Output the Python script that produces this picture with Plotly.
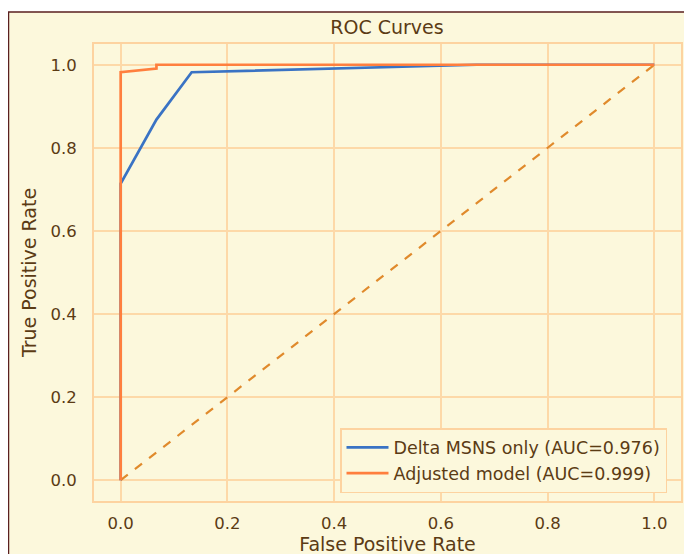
import plotly.graph_objects as go

# Data
fpr_msns = [0.0, 0.0, 0.067, 0.133, 0.667, 1.0]
tpr_msns = [0.0, 0.714, 0.868, 0.982, 1.0, 1.0]
fpr_adj = [0.0, 0.0, 0.067, 0.067, 1.0]
tpr_adj = [0.0, 0.982, 0.991, 1.0, 1.0]
diag_x = [0.0, 1.0]
diag_y = [0.0, 1.0]
name_msns = "Delta MSNS only (AUC=0.976)"
name_adj = "Adjusted model (AUC=0.999)"
tick_vals = [0.0, 0.2, 0.4, 0.6, 0.8, 1.0]
tick_text = ["0.0", "0.2", "0.4", "0.6", "0.8", "1.0"]

W, H = 692, 554
L, R, T, B = 86, 19, 36, 61
pw, ph = W - L - R, H - T - B

cream = "#fcf8dc"
grid = "#fdd9a8"
frame = "#fdd3a0"
text = "#5b3b14"
FONT = "DejaVu Sans"

fig = go.Figure()
fig.add_trace(go.Scatter(x=diag_x, y=diag_y, mode="lines", showlegend=False,
                         line=dict(color="#e08a2c", width=2.2, dash="dash")))
fig.add_trace(go.Scatter(x=fpr_msns, y=tpr_msns, mode="lines", name=name_msns,
                         line=dict(color="#3a73c4", width=2.7)))
fig.add_trace(go.Scatter(x=fpr_adj, y=tpr_adj, mode="lines", name=name_adj,
                         line=dict(color="#ff7f3e", width=2.7)))

# page frame: thin dark border at left/top
fig.add_shape(type="rect", xref="paper", yref="paper", layer="below",
              x0=(0.5 - L) / pw, x1=(W + 30 - L) / pw,
              y0=(H - B - (H + 30)) / ph, y1=(H - B - 4) / ph,
              fillcolor=cream, line=dict(color="#5a1f1f", width=1.5))

fig.update_layout(
    width=W, height=H,
    margin=dict(l=L, r=R, t=T, b=B),
    paper_bgcolor="white", plot_bgcolor=cream,
    font=dict(family=FONT, size=17, color=text),
    title=dict(text="ROC Curves", x=(387 - 8 - L) / pw, xref="paper", xanchor="center",
               y=1 - 19 / H, yanchor="middle", font=dict(size=19, color=text)),
    showlegend=True,
    legend=dict(x=(659 - L) / pw, y=8 / ph, xanchor="right", yanchor="bottom",
                bgcolor=cream, bordercolor=frame, borderwidth=1.5, itemwidth=42,
                font=dict(size=17.5, color=text), tracegroupgap=0),
)
fig.update_xaxes(range=[-0.05, 1.05], tickvals=tick_vals, ticktext=tick_text,
                 showgrid=True, gridcolor=grid, gridwidth=1.5, zeroline=False,
                 showline=True, linecolor=frame, linewidth=2, mirror=True,
                 ticks="", ticklen=0, ticklabelstandoff=6,
                 title=dict(text="False Positive Rate", standoff=5, font=dict(size=19)),
                 tickfont=dict(size=16.5))
fig.update_yaxes(range=[-0.05, 1.05], tickvals=tick_vals, ticktext=tick_text,
                 showgrid=True, gridcolor=grid, gridwidth=1.5, zeroline=False,
                 showline=True, linecolor=frame, linewidth=2, mirror=True,
                 ticks="", ticklen=0, ticklabelstandoff=12,
                 title=dict(text="True Positive Rate", standoff=9, font=dict(size=19)),
                 tickfont=dict(size=16.5))

fig.write_html("out.html")
